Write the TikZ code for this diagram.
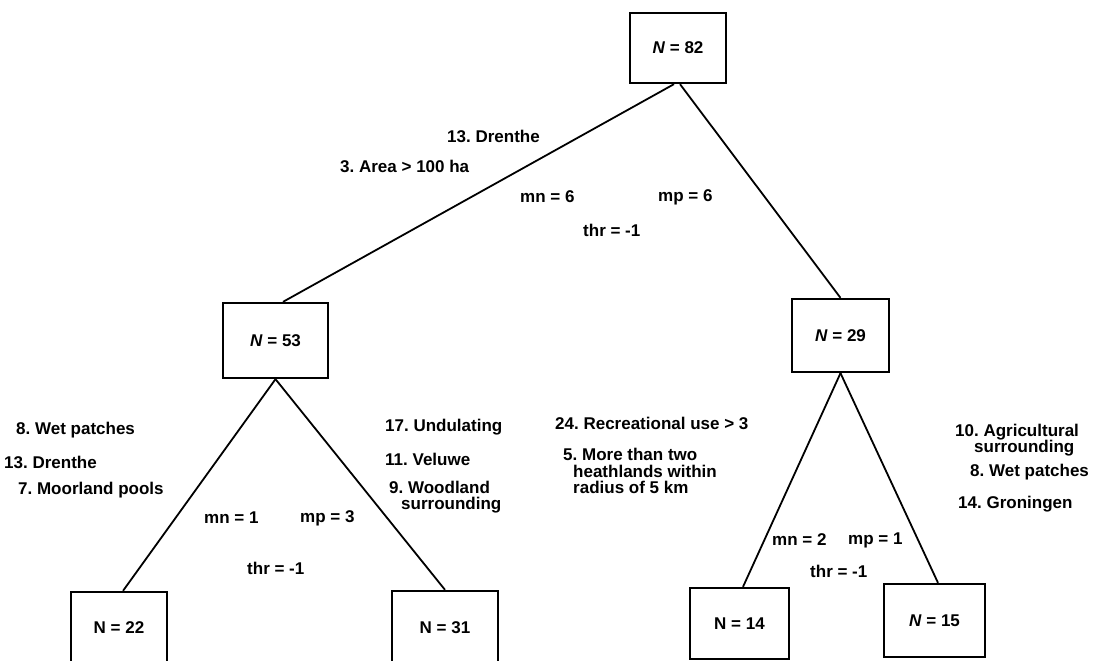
\documentclass[tikz,border=0pt]{standalone}
\usepackage{fontspec}
\setmainfont{Liberation Sans}
\begin{document}
\frenchspacing
\begin{tikzpicture}[x=1pt,y=-1pt,
  every node/.style={font=\fontsize{17}{16.5}\selectfont\bfseries},
  nbox/.style={draw,line width=2.3pt,inner sep=0pt},
  lbl/.style={anchor=west,inner sep=0pt,align=left},
  conn/.style={line width=1.8pt}]
\useasboundingbox (0,0) rectangle (1096,661);
\clip (0,0) rectangle (1096,661);
% boxes
\node[nbox,minimum width=96pt,minimum height=70pt] (root) at (678,48) {\textit{N} = 82};
\node[nbox,minimum width=105pt,minimum height=75pt] (n53) at (275.5,340.5) {\textit{N} = 53};
\node[nbox,minimum width=97pt,minimum height=73pt] (n29) at (840.5,335.5) {\textit{N} = 29};
\node[nbox,minimum width=96pt,minimum height=72pt] (n22) at (119,628) {N = 22};
\node[nbox,minimum width=106pt,minimum height=74pt] (n31) at (445,628) {N = 31};
\node[nbox,minimum width=99pt,minimum height=71pt] (n14) at (739.5,623.5) {N = 14};
\node[nbox,minimum width=101pt,minimum height=73pt] (n15) at (934.5,620.5) {\textit{N} = 15};
% connectors
\draw[conn] ([xshift=-4pt]root.south) -- ([xshift=7.5pt]n53.north);
\draw[conn] ([xshift=2pt]root.south) -- (n29.north);
\draw[conn] (n53.south) -- ([xshift=4pt]n22.north);
\draw[conn] (n53.south) -- (n31.north);
\draw[conn] (n29.south) -- ([xshift=3.5pt]n14.north);
\draw[conn] (n29.south) -- ([xshift=3.5pt]n15.north);
% top labels
\node[lbl] (t1) at (447,136) {13. Drenthe};
\node[lbl] (t2) at (340,166) {3. Area > 100 ha};
\node[lbl] (t3) at (520,197) {mn = 6};
\node[lbl] (t4) at (658,197) {mp = 6};
\node[lbl] (t5) at (583,230) {thr = -1};
% left subtree labels
\node[lbl] (l1) at (16,430) {8. Wet patches};
\node[lbl] (l2) at (4,462) {13. Drenthe};
\node[lbl] (l3) at (18,490) {7. Moorland pools};
\node[lbl] (l4) at (204,518) {mn = 1};
\node[lbl] (l5) at (300,518) {mp = 3};
\node[lbl] (l6) at (247,568) {thr = -1};
\node[lbl] (r1) at (385,427) {17. Undulating};
\node[lbl] (r2) at (385,459) {11. Veluwe};
\node[lbl] (r3) at (389,497) {9. Woodland\\\hspace{12pt}surrounding};
% right subtree labels
\node[lbl] (s1) at (555,423) {24. Recreational use > 3};
\node[lbl] (s2) at (563,471) {5. More than two\\\hspace{10pt}heathlands within\\\hspace{10pt}radius of 5 km};
\node[lbl] (s3) at (772,540) {mn = 2};
\node[lbl] (s4) at (848,540) {mp = 1};
\node[lbl] (s5) at (810,571) {thr = -1};
\node[lbl] (u1) at (955,440) {10. Agricultural\\\hspace{19pt}surrounding};
\node[lbl] (u2) at (970,472) {8. Wet patches};
\node[lbl] (u3) at (958,504) {14. Groningen};
\end{tikzpicture}
\end{document}
